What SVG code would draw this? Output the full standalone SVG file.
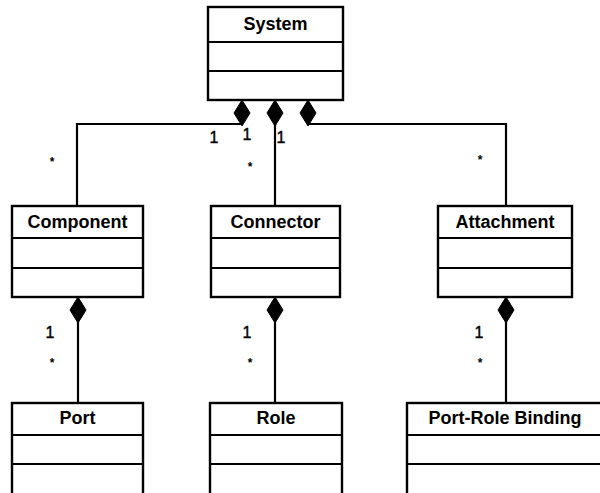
<svg xmlns="http://www.w3.org/2000/svg" width="600" height="493" viewBox="0 0 600 493">
<defs>
<style>
.box{fill:#fff;stroke:#000;stroke-width:2.4}
.div{stroke:#000;stroke-width:2.2}
.title{font-family:"Liberation Sans",Arial,sans-serif;font-weight:bold;font-size:18px;text-anchor:middle;fill:#000}
.m{font-family:"Liberation Sans",Arial,sans-serif;font-size:16px;fill:#000;stroke:#000;stroke-width:0.4;text-anchor:middle}
.s{font-family:"Liberation Sans",Arial,sans-serif;font-size:12px;font-weight:bold;fill:#000;text-anchor:middle}
.ln{fill:none;stroke:#000;stroke-width:2.2}
.dia{fill:#000;stroke:#000;stroke-width:1}
</style>
</defs>
<rect width="600" height="493" fill="#fff"/>
<g id="connectors">
<polyline class="ln" points="242,124 77,124 77,206"/>
<line class="ln" x1="275" y1="124" x2="275" y2="206"/>
<polyline class="ln" points="308,124 506,124 506,206"/>
<line class="ln" x1="78" y1="322" x2="78" y2="403"/>
<line class="ln" x1="275" y1="322" x2="275" y2="403"/>
<line class="ln" x1="506" y1="322" x2="506" y2="403"/>
<polygon class="dia" points="242,100 250,113 242,126 234,113"/>
<polygon class="dia" points="275,100 283,113 275,126 267,113"/>
<polygon class="dia" points="308,100 316,113 308,126 300,113"/>
<polygon class="dia" points="78,297 86,310 78,323 70,310"/>
<polygon class="dia" points="275,297 283,310 275,323 267,310"/>
<polygon class="dia" points="506,297 514,310 506,323 498,310"/>
<text class="m" x="214" y="143">1</text>
<text class="m" x="247" y="140">1</text>
<text class="m" x="281" y="143">1</text>
<text class="s" x="250" y="171">*</text>
<text class="s" x="52" y="166">*</text>
<text class="s" x="480" y="164">*</text>
<text class="m" x="50" y="338">1</text>
<text class="s" x="52" y="367">*</text>
<text class="m" x="247" y="338">1</text>
<text class="s" x="250" y="367">*</text>
<text class="m" x="479" y="338">1</text>
<text class="s" x="480" y="367">*</text>
</g>
<g id="system">
<rect class="box" x="208" y="7" width="135" height="93"/>
<line class="div" x1="208" y1="42" x2="343" y2="42"/>
<line class="div" x1="208" y1="71" x2="343" y2="71"/>
<text class="title" x="275.5" y="30">System</text>
</g>
<g id="component">
<rect class="box" x="12" y="206" width="131" height="91"/>
<line class="div" x1="12" y1="238" x2="143" y2="238"/>
<line class="div" x1="12" y1="268" x2="143" y2="268"/>
<text class="title" x="77.5" y="228">Component</text>
</g>
<g id="connector">
<rect class="box" x="211" y="206" width="129" height="91"/>
<line class="div" x1="211" y1="238" x2="340" y2="238"/>
<line class="div" x1="211" y1="268" x2="340" y2="268"/>
<text class="title" x="275.5" y="228">Connector</text>
</g>
<g id="attachment">
<rect class="box" x="438" y="206" width="134" height="91"/>
<line class="div" x1="438" y1="238" x2="572" y2="238"/>
<line class="div" x1="438" y1="268" x2="572" y2="268"/>
<text class="title" x="505" y="228">Attachment</text>
</g>
<g id="port">
<rect class="box" x="12" y="403" width="131" height="100"/>
<line class="div" x1="12" y1="435" x2="143" y2="435"/>
<line class="div" x1="12" y1="464" x2="143" y2="464"/>
<text class="title" x="77.5" y="424">Port</text>
</g>
<g id="role">
<rect class="box" x="210" y="403" width="132" height="100"/>
<line class="div" x1="210" y1="435" x2="342" y2="435"/>
<line class="div" x1="210" y1="464" x2="342" y2="464"/>
<text class="title" x="276" y="424">Role</text>
</g>
<g id="port-role-binding">
<rect class="box" x="407" y="403" width="200" height="100"/>
<line class="div" x1="407" y1="435" x2="607" y2="435"/>
<line class="div" x1="407" y1="464" x2="607" y2="464"/>
<text class="title" x="505" y="424">Port-Role Binding</text>
</g>
</svg>
